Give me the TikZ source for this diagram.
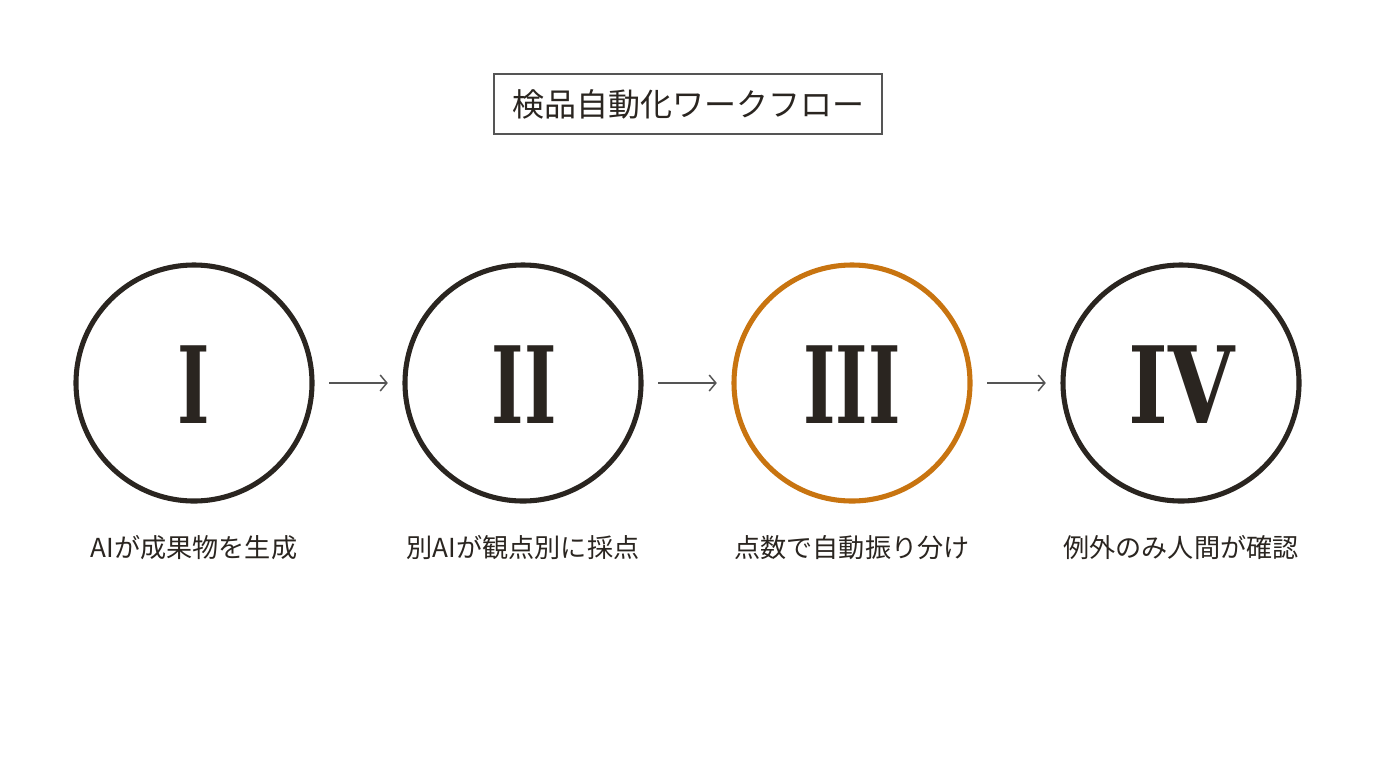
\documentclass[tikz,border=0pt]{standalone}
\usepackage{fontspec}
\usetikzlibrary{arrows.meta}
\newfontfamily\jp{Noto Sans CJK JP}
\newfontfamily\numfont{DejaVu Serif}[BoldFont={* Bold}]
\definecolor{ink}{HTML}{2A2520}
\definecolor{accent}{HTML}{C87410}
\definecolor{arrowgray}{HTML}{555555}
\tikzset{
  stage/.style={circle, draw=ink, line width=3.8pt, minimum size=177pt, inner sep=0pt, text=ink},
  hilite/.style={stage, draw=accent},
  numeral/.style={font=\numfont\bfseries\fontsize{80}{80}\selectfont},
  label/.style={font=\jp\fontsize{19.6}{22}\selectfont, text=ink},
  flow/.style={draw=arrowgray, line width=1.1pt, -{Straight Barb[length=5pt,width=12pt]}},
  titlebox/.style={draw=arrowgray, line width=0.8pt, minimum width=291pt, minimum height=45pt, font=\jp\fontsize{24}{28}\selectfont, text=ink}
}
\newcommand{\narrow}[2][0.65]{\scalebox{#1}[1]{#2}}
\begin{document}
\begin{tikzpicture}[x=0.75pt,y=-0.75pt]
\useasboundingbox (0,0) rectangle (1376,768);
\fill[white] (0,0) rectangle (1376,768);
\node[titlebox] (title) at (688,104) {検品自動化ワークフロー};
\node[stage] (s1) at (194,383) {};
\node[stage] (s2) at (523,383) {};
\node[hilite] (s3) at (852,383) {};
\node[stage] (s4) at (1181,383) {};
\node[numeral, text=ink] (n1) at (194,385) {\narrow{I}};
\node[numeral, text=ink] (n2) at (524,385) {\narrow{II}};
\node[numeral, text=ink] (n3) at (852,385) {\narrow{III}};
\node[numeral, text=ink] (n4) at (1182,385) {\narrow[0.8]{IV}};
\node[label] (l1) at (194,548) {AIが成果物を生成};
\node[label] (l2) at (523,548) {別AIが観点別に採点};
\node[label] (l3) at (852,548) {点数で自動振り分け};
\node[label] (l4) at (1181,548) {例外のみ人間が確認};
\draw[flow] ([xshift=11pt]s1.east) -- ([xshift=-11pt]s2.west);
\draw[flow] ([xshift=11pt]s2.east) -- ([xshift=-11pt]s3.west);
\draw[flow] ([xshift=11pt]s3.east) -- ([xshift=-11pt]s4.west);
\end{tikzpicture}
\end{document}
